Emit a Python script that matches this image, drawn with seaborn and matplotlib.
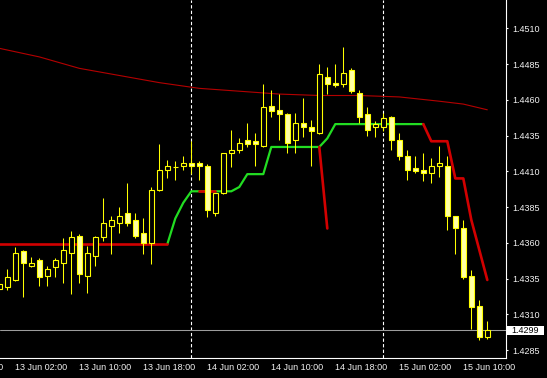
import matplotlib
matplotlib.use("Agg")
import matplotlib.pyplot as plt
from matplotlib.patches import Rectangle
from matplotlib.transforms import blended_transform_factory, offset_copy
import pandas as pd
import seaborn as sns

# ---------------- data (hourly candles, 13 Jun 00:00 .. 15 Jun 13:00) ----------------
bars = list(range(62))
opens = [1.4328, 1.4329, 1.4334, 1.4354, 1.4344, 1.4348, 1.4337, 1.4343, 1.4346, 1.4353,
         1.4365, 1.4337, 1.4351, 1.4364, 1.4372, 1.4374, 1.4381, 1.4376, 1.4367, 1.4360,
         1.4397, 1.4411, 1.4413, 1.4414, 1.4416, 1.4416, 1.4414, 1.4381, 1.4395, 1.4423,
         1.4425, 1.4432, 1.4431, 1.4428, 1.4456, 1.4453, 1.4450, 1.4432, 1.4444, 1.4441,
         1.4437, 1.4476, 1.4472, 1.4471, 1.4481, 1.4465, 1.4450, 1.4441, 1.4441, 1.4448,
         1.4432, 1.4421, 1.4412, 1.4411, 1.4409, 1.4414, 1.4414, 1.4379, 1.4370, 1.4337,
         1.4316, 1.4294]
highs = [1.4332, 1.4342, 1.4357, 1.4355, 1.4350, 1.4349, 1.4344, 1.4349, 1.4363, 1.4368,
         1.4366, 1.4358, 1.4365, 1.4391, 1.4379, 1.4385, 1.4402, 1.4381, 1.4377, 1.4399,
         1.4429, 1.4418, 1.4417, 1.4421, 1.4431, 1.4417, 1.4415, 1.4395, 1.4423, 1.4439,
         1.4433, 1.4444, 1.4437, 1.4471, 1.4467, 1.4464, 1.4451, 1.4451, 1.4461, 1.4446,
         1.4485, 1.4483, 1.4485, 1.4497, 1.4482, 1.4467, 1.4455, 1.4445, 1.4451, 1.4449,
         1.4437, 1.4425, 1.4421, 1.4423, 1.4419, 1.4428, 1.4421, 1.4379, 1.4376, 1.4341,
         1.4320, 1.4305]
lows = [1.4326, 1.4327, 1.4333, 1.4322, 1.4343, 1.4330, 1.4330, 1.4336, 1.4332, 1.4324,
        1.4332, 1.4325, 1.4344, 1.4361, 1.4352, 1.4367, 1.4372, 1.4363, 1.4352, 1.4345,
        1.4396, 1.4405, 1.4404, 1.4411, 1.4408, 1.4404, 1.4378, 1.4379, 1.4394, 1.4413,
        1.4423, 1.4427, 1.4414, 1.4427, 1.4448, 1.4432, 1.4423, 1.4423, 1.4434, 1.4414,
        1.4436, 1.4464, 1.4469, 1.4469, 1.4465, 1.4444, 1.4435, 1.4434, 1.4438, 1.4425,
        1.4418, 1.4404, 1.4409, 1.4403, 1.4402, 1.4406, 1.4369, 1.4352, 1.4335, 1.4300,
        1.4292, 1.4293]
closes = [1.4331, 1.4336, 1.4353, 1.4346, 1.4346, 1.4336, 1.4342, 1.4348, 1.4355, 1.4364,
          1.4338, 1.4353, 1.4364, 1.4374, 1.4376, 1.4379, 1.4374, 1.4365, 1.4360, 1.4397,
          1.4411, 1.4414, 1.4413, 1.4416, 1.4414, 1.4414, 1.4383, 1.4395, 1.4423, 1.4425,
          1.4430, 1.4429, 1.4429, 1.4455, 1.4452, 1.4450, 1.4430, 1.4444, 1.4441, 1.4438,
          1.4478, 1.4471, 1.4470, 1.4479, 1.4466, 1.4448, 1.4439, 1.4443, 1.4447, 1.4432,
          1.4421, 1.4411, 1.4410, 1.4409, 1.4414, 1.4416, 1.4379, 1.4370, 1.4336, 1.4315,
          1.4294, 1.4299]

# moving average (thin dark red)
ma_bars = [0, 5, 10, 15, 20, 25, 30, 35, 40, 45, 50, 55, 58, 61]
ma_vals = [1.4496, 1.4490, 1.4482, 1.4477, 1.4472, 1.4468, 1.4466, 1.4464, 1.4463,
           1.4463, 1.4462, 1.4459, 1.4457, 1.4453]

# trailing stop: support (green) and resistance (red) pieces
green_bars = [21, 22, 23, 24, 29, 30, 31, 33, 34, 40, 41, 42, 53]
green_vals = [1.4359, 1.4377, 1.4388, 1.4396, 1.4396, 1.4399, 1.4408, 1.4408,
              1.4427, 1.4427, 1.4433, 1.4443, 1.4443]
red1_bars = [0, 21]
red1_vals = [1.4359, 1.4359]
red2_bars = [25, 27]
red2_vals = [1.4396, 1.4396]
red3_bars = [40, 41]
red3_vals = [1.4427, 1.4370]
red4_bars = [53, 54, 56, 57, 58, 59, 60, 61]
red4_vals = [1.4443, 1.4431, 1.4431, 1.4405, 1.4405, 1.4376, 1.4355, 1.4334]

bid_price = 1.4299
day_breaks = [24, 48]

ytick_vals = [1.4285, 1.4310, 1.4335, 1.4360, 1.4385, 1.4410, 1.4435, 1.4460, 1.4485, 1.4510]
xtick_bars = [2, 10, 18, 26, 34, 42, 50, 58]
xtick_labels = ["13 Jun 02:00", "13 Jun 10:00", "13 Jun 18:00", "14 Jun 02:00",
                "14 Jun 10:00", "14 Jun 18:00", "15 Jun 02:00", "15 Jun 10:00"]
clipped_bar = -6
clipped_label = "12 Jun 18:00"

# ---------------- styling ----------------
sns.set_theme(style="dark")
plt.rcParams['font.family'] = ['Liberation Sans', 'DejaVu Sans']

W, H = 547, 378
fig = plt.figure(figsize=(W / 100, H / 100), dpi=100, facecolor='black')
ax = fig.add_axes([0, 20 / H, 505.5 / W, 358 / H])
ax.set_facecolor('black')
ax.grid(False)

YEL = '#ffff00'
FILL = '#ffffa6'
TXT = '#f2f2f2'

# day separators and bid line (behind candles)
for b in day_breaks:
    ax.axvline(b, color='white', linewidth=0.8, linestyle=(0, (3, 2)), zorder=1)
ax.axhline(bid_price, color='#9c9c9c', linewidth=0.75, zorder=1)

# indicator lines with seaborn
df_ma = pd.DataFrame({'bar': ma_bars, 'val': ma_vals})
sns.lineplot(data=df_ma, x='bar', y='val', color='#b40000', linewidth=0.8,
             ax=ax, estimator=None, sort=False, legend=False, zorder=2)
sns.lineplot(x=green_bars, y=green_vals, color='#22dd22', linewidth=1.6,
             ax=ax, estimator=None, sort=False, legend=False, zorder=2)
for bx, vy in [(red1_bars, red1_vals), (red2_bars, red2_vals),
               (red3_bars, red3_vals), (red4_bars, red4_vals)]:
    sns.lineplot(x=bx, y=vy, color='#d20000', linewidth=1.9,
                 ax=ax, estimator=None, sort=False, legend=False, zorder=2)

# candles
ax.vlines(bars, lows, highs, color=YEL, linewidth=0.75, zorder=3)
bottoms = [min(o, c) for o, c in zip(opens, closes)]
heights = [max(abs(c - o), 0.00002) for o, c in zip(opens, closes)]
faces = ['black' if c > o else FILL for o, c in zip(opens, closes)]
ax.bar(bars, heights, bottom=bottoms, width=0.56, color=faces,
       edgecolor=YEL, linewidth=0.8, zorder=4)

# limits
ax.set_xlim(0.0875, 63.275)
ax.set_ylim(1.427941, 1.452979)

# spines
for s in ['top', 'left']:
    ax.spines[s].set_visible(False)
for s in ['right', 'bottom']:
    ax.spines[s].set_visible(True)
    ax.spines[s].set_color('white')
    ax.spines[s].set_linewidth(0.8)

# ticks
ax.yaxis.tick_right()
ax.set_yticks(ytick_vals)
ax.set_yticklabels([f"{v:.4f}" for v in ytick_vals])
ax.set_xticks(xtick_bars)
ax.set_xticklabels(xtick_labels)
for lab in ax.get_xticklabels():
    lab.set_horizontalalignment('left')
ax.tick_params(axis='y', colors='white', labelcolor=TXT, length=1.6, width=0.8,
               pad=3, labelsize=6.5, direction='out')
ax.tick_params(axis='x', colors='white', labelcolor=TXT, length=2.8, width=0.8,
               pad=1, labelsize=6.5, direction='out')
ax.set_xlabel('')
ax.set_ylabel('')

# partially visible label at the left edge (cut off in the original too)
tr = offset_copy(blended_transform_factory(ax.transData, ax.transAxes), fig=fig,
                 y=-(2.8 + 1), units='points')
ax.text(clipped_bar, 0, clipped_label, transform=tr, ha='left', va='top',
        fontsize=6.5, color=TXT, clip_on=False)

# bid price box on the price scale
fig.patches.append(Rectangle((506 / W, (H - 334.5) / H), 37.5 / W, 9 / H,
                             transform=fig.transFigure, facecolor='white',
                             edgecolor='none', zorder=5))
fig.text(511 / W, (H - 330.3) / H, f"{bid_price:.4f}", color='black', fontsize=6.5,
         va='center', ha='left', zorder=6)

fig.savefig('out.png', dpi=100, facecolor='black')
